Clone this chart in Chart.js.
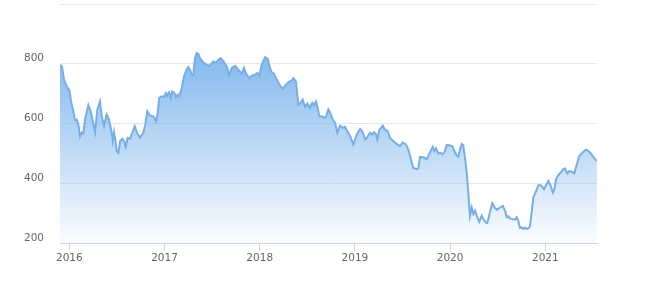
<!DOCTYPE html>
<html>
<head>
<meta charset="utf-8">
<script src="https://cdn.jsdelivr.net/npm/chart.js@4"></script>
<style>
html,body{margin:0;padding:0;background:#fff;}
#c{display:block;}
</style>
</head>
<body>
<canvas id="c" width="658" height="285"></canvas>
<script>
// Time in decimal years
const dates = [
2015.902,2015.923,2015.944,2015.965,2015.986,2016.000,2016.018,2016.042,2016.060,2016.078,
2016.095,2016.112,2016.130,2016.147,2016.165,2016.200,2016.228,2016.270,2016.294,2016.322,
2016.340,2016.364,2016.393,2016.417,2016.445,2016.456,2016.470,2016.487,2016.498,2016.515,
2016.533,2016.557,2016.575,2016.592,2016.613,2016.638,2016.662,2016.687,2016.708,2016.743,
2016.777,2016.798,2016.819,2016.848,2016.882,2016.911,2016.929,2016.945,2016.971,2016.995,
2017.013,2017.029,2017.047,2017.065,2017.079,2017.100,2017.121,2017.139,2017.155,2017.181,
2017.205,2017.233,2017.250,2017.268,2017.286,2017.303,2017.320,2017.338,2017.355,2017.373,
2017.408,2017.443,2017.471,2017.513,2017.541,2017.565,2017.590,2017.618,2017.653,2017.681,
2017.706,2017.741,2017.775,2017.811,2017.835,2017.856,2017.891,2017.916,2017.950,2017.975,
2017.996,2018.021,2018.056,2018.084,2018.108,2018.126,2018.150,2018.179,2018.213,2018.242,
2018.266,2018.300,2018.336,2018.353,2018.381,2018.405,2018.423,2018.451,2018.476,2018.500,
2018.528,2018.552,2018.570,2018.591,2018.605,2018.626,2018.651,2018.679,2018.697,2018.721,
2018.739,2018.767,2018.792,2018.815,2018.844,2018.872,2018.896,2018.920,2018.949,2018.983,
2019.019,2019.054,2019.078,2019.107,2019.120,2019.159,2019.183,2019.201,2019.222,2019.235,
2019.256,2019.292,2019.313,2019.344,2019.369,2019.403,2019.445,2019.474,2019.502,2019.537,
2019.561,2019.589,2019.613,2019.649,2019.666,2019.684,2019.726,2019.754,2019.796,2019.817,
2019.834,2019.852,2019.876,2019.901,2019.922,2019.946,2019.964,2019.992,2020.023,2020.044,
2020.069,2020.086,2020.104,2020.122,2020.138,2020.156,2020.174,2020.191,2020.209,2020.227,
2020.244,2020.262,2020.286,2020.307,2020.332,2020.349,2020.374,2020.391,2020.419,2020.443,
2020.472,2020.496,2020.524,2020.553,2020.577,2020.595,2020.611,2020.629,2020.658,2020.682,
2020.700,2020.716,2020.734,2020.752,2020.769,2020.787,2020.805,2020.822,2020.839,2020.857,
2020.874,2020.903,2020.927,2020.952,2020.973,2020.986,2021.008,2021.032,2021.057,2021.078,
2021.095,2021.113,2021.137,2021.162,2021.189,2021.207,2021.231,2021.252,2021.277,2021.305,
2021.330,2021.357,2021.382,2021.407,2021.428,2021.452,2021.477,2021.504,2021.532,2021.542
];
const values = [
797,791,747,730,717,713,674,641,611,613,
597,556,570,567,613,662,637,571,647,674,
624,593,630,613,570,541,571,536,508,502,
541,549,541,522,552,549,569,591,571,552,
569,597,641,627,624,608,636,686,691,689,
702,693,704,686,707,704,689,697,691,719,
758,782,789,780,763,763,819,836,833,819,
804,797,793,808,804,813,819,808,791,763,
786,793,780,767,786,767,752,760,763,769,
760,797,822,816,786,771,767,747,727,716,
727,738,744,752,741,663,667,680,656,667,
652,669,660,674,658,624,624,619,624,647,
636,613,602,569,593,586,589,574,558,530,
563,582,574,547,549,569,563,571,563,547,
578,593,580,574,552,541,530,524,536,530,
513,480,452,447,450,488,486,480,508,522,
508,517,500,502,497,508,528,527,524,508,
493,489,513,532,527,486,436,369,291,319,
297,308,286,271,291,280,269,267,304,333,
316,311,319,324,308,286,289,282,280,278,
286,274,250,252,247,252,247,249,256,302,
352,374,393,393,386,380,393,408,391,369,
380,413,427,436,447,449,433,441,439,433,
463,491,500,507,513,508,500,489,477,476
];
const yearTicks = [2016, 2017, 2018, 2019, 2020, 2021];
const yTickValues = [200, 400, 600, 800, 1000];
const yLabelled = [200, 400, 600, 800];
const xMin = 2015.902, xMax = 2021.543;

const points = dates.map((d, i) => ({x: d, y: values[i]}));

const FONT = {family: 'DejaVu Sans', size: 10.5};

new Chart(document.getElementById('c'), {
  type: 'line',
  data: {
    datasets: [{
      data: points,
      borderColor: 'rgb(118,174,233)',
      borderWidth: 2,
      pointRadius: 0,
      tension: 0,
      fill: 'start',
      backgroundColor: (ctx) => {
        const chart = ctx.chart;
        const area = chart.chartArea;
        if (!area) return 'rgba(124,181,236,0.5)';
        const y0 = chart.scales.y.getPixelForValue(840);
        const g = chart.ctx.createLinearGradient(0, y0, 0, area.bottom);
        g.addColorStop(0, 'rgba(124,181,236,0.95)');
        g.addColorStop(0.5, 'rgba(124,181,236,0.5)');
        g.addColorStop(1, 'rgba(124,181,236,0.03)');
        return g;
      }
    }]
  },
  options: {
    responsive: false,
    animation: false,
    events: [],
    layout: {padding: {left: 0, right: 61, top: 4, bottom: 0}},
    plugins: {legend: {display: false}, tooltip: {enabled: false}},
    scales: {
      x: {
        type: 'linear',
        min: xMin,
        max: xMax,
        afterBuildTicks: (axis) => { axis.ticks = yearTicks.map(v => ({value: v})); },
        afterFit: (axis) => { axis.height = 42; axis.paddingLeft = 0; axis.paddingRight = 0; },
        ticks: {
          color: '#666666',
          font: FONT,
          padding: 1,
          maxRotation: 0,
          autoSkip: false,
          callback: (v) => String(v)
        },
        grid: {
          drawOnChartArea: false,
          drawTicks: true,
          tickLength: 8,
          color: '#ccd6eb',
          lineWidth: 1
        },
        border: {display: true, color: '#ccd6eb', width: 1}
      },
      y: {
        type: 'linear',
        min: 200,
        max: 1000,
        afterBuildTicks: (axis) => { axis.ticks = yTickValues.map(v => ({value: v})); },
        afterFit: (axis) => { axis.width = 60; axis.paddingTop = 0; axis.paddingBottom = 0; },
        ticks: {
          color: '#666666',
          font: FONT,
          padding: 16,
          labelOffset: -5,
          callback: (v) => yLabelled.includes(v) ? String(v) : ''
        },
        grid: {
          drawTicks: false,
          color: (c) => c.tick && c.tick.value === 200 ? 'rgba(0,0,0,0)' : '#e6e6e6',
          lineWidth: 1
        },
        border: {display: false}
      }
    }
  }
});
</script>
</body>
</html>
